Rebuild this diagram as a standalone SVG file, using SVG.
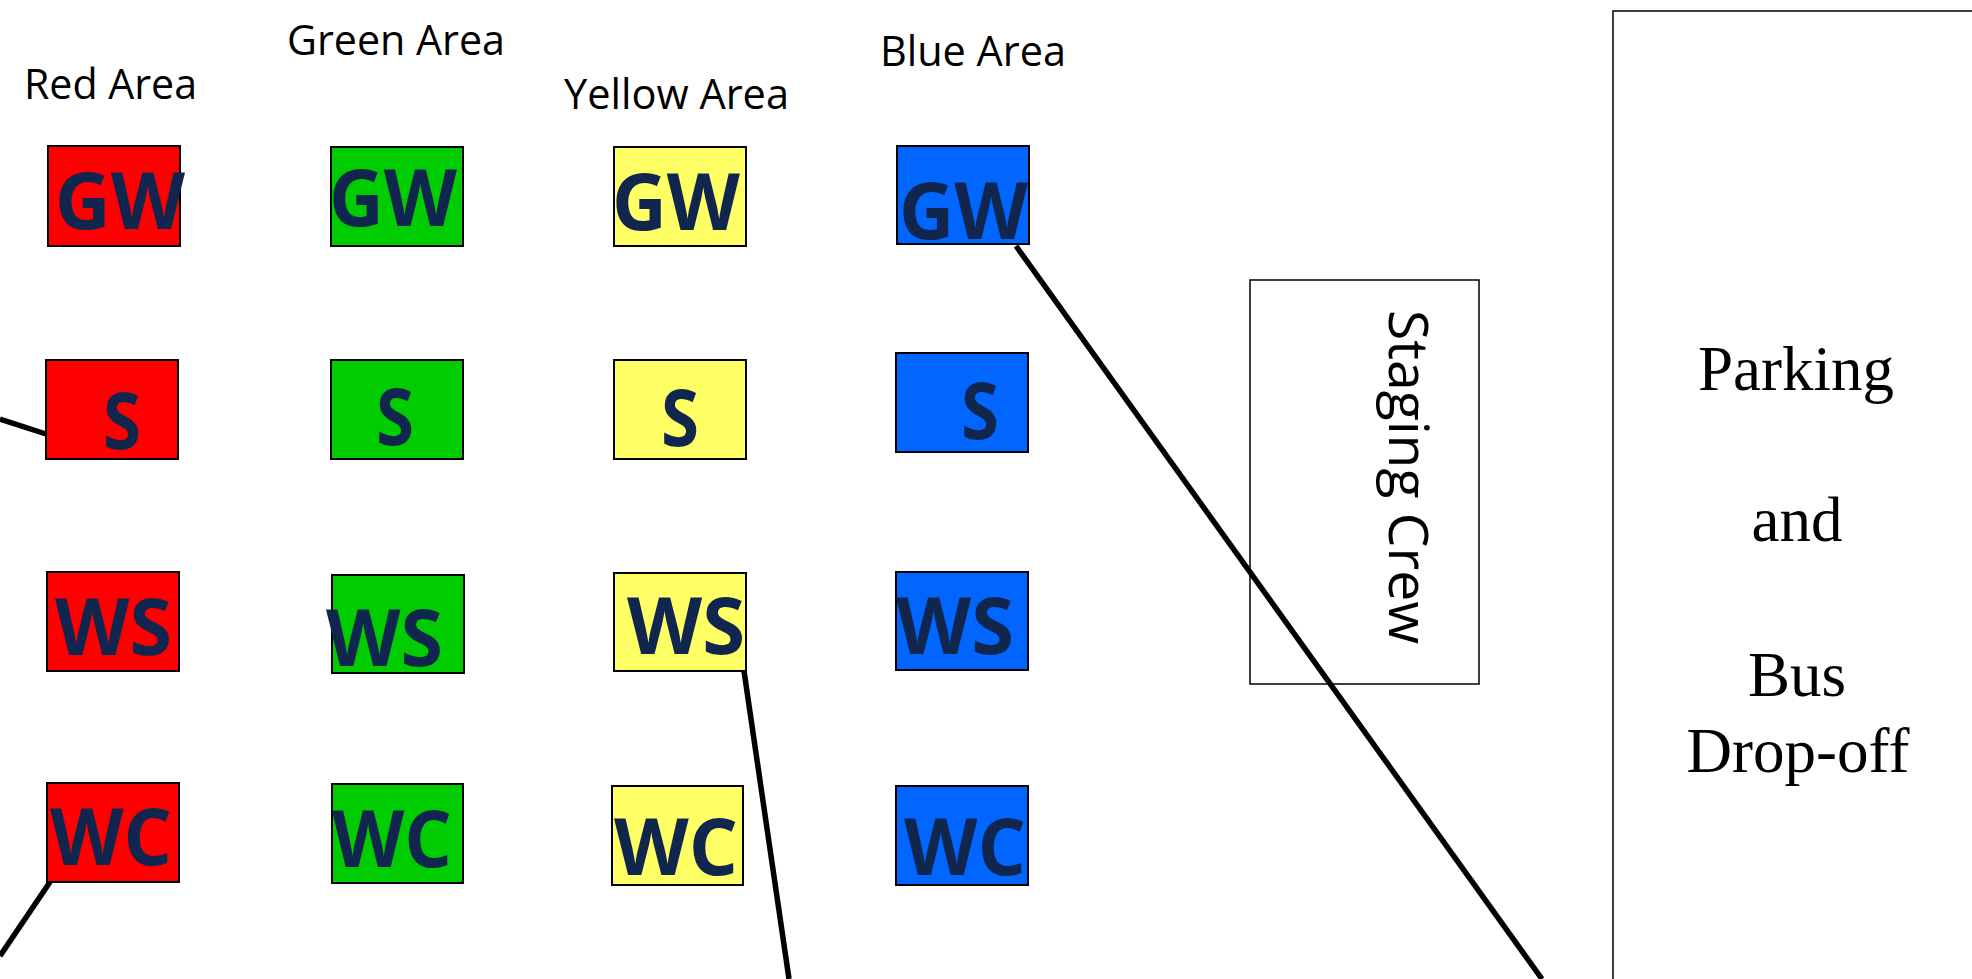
<svg xmlns="http://www.w3.org/2000/svg" width="1972" height="979" viewBox="0 0 1972 979">
<style>
.area{font-family:"Open Sans","Noto Sans",sans-serif;font-size:42px;fill:#000}
.box{stroke:#000;stroke-width:2}
.red{fill:#FF0000}.green{fill:#00CC00}.yellow{fill:#FFFF66}.blue{fill:#0066FF}
.lbl{font-family:"Open Sans","Noto Sans",sans-serif;font-weight:bold;font-size:79px;fill:#10264E}
.conn{stroke:#000;stroke-width:5.5;fill:none}
.thin{fill:none;stroke:#000;stroke-width:1.5}
.serif{font-family:"Liberation Serif","Times New Roman",serif;font-size:63px;fill:#000;text-anchor:middle}
</style>
<rect width="1972" height="979" fill="#fff"/>
<g id="titles">
<text class="area" x="24" y="99" textLength="173" lengthAdjust="spacingAndGlyphs">Red Area</text>
<text class="area" x="287" y="55" textLength="218" lengthAdjust="spacingAndGlyphs">Green Area</text>
<text class="area" x="564" y="109" textLength="225" lengthAdjust="spacingAndGlyphs">Yellow Area</text>
<text class="area" x="880" y="66" textLength="186" lengthAdjust="spacingAndGlyphs">Blue Area</text>
</g>
<g id="red-gw"><rect class="box red" x="48" y="146" width="132" height="100"/><text class="lbl" x="55" y="229" textLength="130" lengthAdjust="spacingAndGlyphs">GW</text></g>
<g id="green-gw"><rect class="box green" x="331" y="147" width="132" height="99"/><text class="lbl" x="329" y="226" textLength="128" lengthAdjust="spacingAndGlyphs">GW</text></g>
<g id="yellow-gw"><rect class="box yellow" x="614" y="147" width="132" height="99"/><text class="lbl" x="612" y="230" textLength="128" lengthAdjust="spacingAndGlyphs">GW</text></g>
<g id="blue-gw"><rect class="box blue" x="897" y="146" width="132" height="98"/><text class="lbl" x="899" y="239" textLength="129" lengthAdjust="spacingAndGlyphs">GW</text></g>

<g id="red-s"><rect class="box red" x="46" y="360" width="132" height="99"/><text class="lbl" x="103" y="449" textLength="38" lengthAdjust="spacingAndGlyphs">S</text></g>
<g id="green-s"><rect class="box green" x="331" y="360" width="132" height="99"/><text class="lbl" x="376" y="445" textLength="38" lengthAdjust="spacingAndGlyphs">S</text></g>
<g id="yellow-s"><rect class="box yellow" x="614" y="360" width="132" height="99"/><text class="lbl" x="661" y="446" textLength="38" lengthAdjust="spacingAndGlyphs">S</text></g>
<g id="blue-s"><rect class="box blue" x="896" y="353" width="132" height="99"/><text class="lbl" x="961" y="439" textLength="38" lengthAdjust="spacingAndGlyphs">S</text></g>

<g id="red-ws"><rect class="box red" x="47" y="572" width="132" height="99"/><text class="lbl" x="55" y="655" textLength="117" lengthAdjust="spacingAndGlyphs">WS</text></g>
<g id="green-ws"><rect class="box green" x="332" y="575" width="132" height="98"/><text class="lbl" x="326" y="666" textLength="117" lengthAdjust="spacingAndGlyphs">WS</text></g>
<g id="yellow-ws"><rect class="box yellow" x="614" y="573" width="132" height="98"/><text class="lbl" x="627" y="654" textLength="118" lengthAdjust="spacingAndGlyphs">WS</text></g>
<g id="blue-ws"><rect class="box blue" x="896" y="572" width="132" height="98"/><text class="lbl" x="896" y="654" textLength="118" lengthAdjust="spacingAndGlyphs">WS</text></g>

<g id="red-wc"><rect class="box red" x="47" y="783" width="132" height="99"/><text class="lbl" x="50" y="865" textLength="122" lengthAdjust="spacingAndGlyphs">WC</text></g>
<g id="green-wc"><rect class="box green" x="332" y="784" width="131" height="99"/><text class="lbl" x="332" y="867" textLength="120" lengthAdjust="spacingAndGlyphs">WC</text></g>
<g id="yellow-wc"><rect class="box yellow" x="612" y="786" width="131" height="99"/><text class="lbl" x="614" y="875" textLength="124" lengthAdjust="spacingAndGlyphs">WC</text></g>
<g id="blue-wc"><rect class="box blue" x="896" y="786" width="132" height="99"/><text class="lbl" x="904" y="875" textLength="122" lengthAdjust="spacingAndGlyphs">WC</text></g>

<g id="staging-crew"><rect class="thin" x="1250" y="280" width="229" height="404"/><text transform="translate(1389,477) rotate(90)" style="font-family:'Open Sans','Noto Sans',sans-serif;font-size:55px;text-anchor:middle" fill="#000" textLength="334" lengthAdjust="spacingAndGlyphs">Staging Crew</text></g>

<g id="parking"><rect class="thin" x="1613" y="11" width="420" height="1000"/>
<text class="serif" x="1796" y="390">Parking</text>
<text class="serif" x="1797" y="541">and</text>
<text class="serif" x="1797" y="696">Bus</text>
<text class="serif" x="1798" y="772">Drop-off</text>
</g>

<g id="connectors">
<line class="conn" x1="0" y1="419" x2="46" y2="434"/>
<line class="conn" x1="50" y1="882" x2="0" y2="956"/>
<line class="conn" x1="744" y1="671" x2="789" y2="979"/>
<line class="conn" x1="1016" y1="246" x2="1542" y2="979"/>
</g>
</svg>
